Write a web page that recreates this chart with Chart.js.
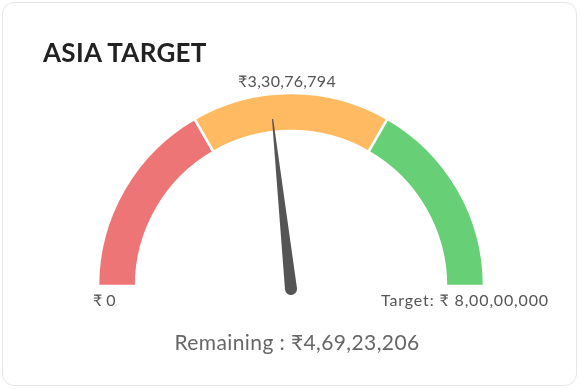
<!DOCTYPE html>
<html>
<head>
<meta charset="utf-8">
<script src="https://cdn.jsdelivr.net/npm/chart.js@4"></script>
<style>
  html, body { margin:0; padding:0; background:#fff; }
  body { width:580px; height:389px; position:relative; overflow:hidden; font-family: Lato, "Noto Sans", "DejaVu Sans", sans-serif; }
  .card { position:absolute; left:2px; top:2px; width:573px; height:382px; border:1.5px solid #e6e6e6; border-radius:12px; background:#fff; }
  canvas { position:absolute; left:0; top:0; }
  .t { position:absolute; white-space:nowrap; }
  #title { left:43px; top:36px; font-size:26px; font-weight:700; color:#222; letter-spacing:0.3px; }
  #valueLbl { left:0; width:580px; text-align:center; top:71px; font-size:16px; color:#555; letter-spacing:0.3px; padding-right:6px; box-sizing:border-box; }
  #minLbl { left:93px; top:290px; font-size:16px; color:#555; }
  #maxLbl { right:31px; top:290px; font-size:16px; color:#555; letter-spacing:0.85px; }
  #remLbl { left:0; width:580px; text-align:center; top:329px; font-size:21px; color:#666; letter-spacing:0.4px; padding-left:14px; box-sizing:border-box; }
</style>
</head>
<body>
<div class="card"></div>
<canvas id="c" width="580" height="389"></canvas>
<div class="t" id="title"></div>
<div class="t" id="valueLbl"></div>
<div class="t" id="minLbl"></div>
<div class="t" id="maxLbl"></div>
<div class="t" id="remLbl"></div>
<script>
// ---- data ----
const titleText = "ASIA TARGET";
const segmentLabels = ["Low", "Medium", "High"];
const segmentValues = [26666667, 26666667, 26666666];
const segmentColors = ["#ED7575", "#FFBA62", "#67CF75"];
const minValue = 0;
const targetValue = 80000000;
const actualValue = 33076794;
const needleValue = 37250000; // needle position

function inr(n) {
  const s = String(Math.round(n));
  if (s.length <= 3) return s;
  const last3 = s.slice(-3);
  let rest = s.slice(0, -3);
  const parts = [];
  while (rest.length > 2) { parts.unshift(rest.slice(-2)); rest = rest.slice(0, -2); }
  if (rest.length) parts.unshift(rest);
  return parts.join(",") + "," + last3;
}

document.getElementById("title").textContent = titleText;
document.getElementById("valueLbl").textContent = "₹" + inr(actualValue);
document.getElementById("minLbl").textContent = "₹ " + inr(minValue);
document.getElementById("maxLbl").textContent = "Target: ₹ " + inr(targetValue);
document.getElementById("remLbl").textContent = "Remaining : ₹" + inr(targetValue - actualValue);

const needlePlugin = {
  id: "needle",
  afterDatasetsDraw(chart) {
    const meta = chart.getDatasetMeta(0);
    const arc = meta.data[0];
    if (!arc) return;
    const cx = arc.x, cy = arc.y + 3;
    const frac = (needleValue - minValue) / (targetValue - minValue);
    const ang = Math.PI + frac * Math.PI;
    const len = 171;
    const ctx = chart.ctx;
    ctx.save();
    ctx.translate(cx, cy);
    ctx.rotate(ang);
    ctx.fillStyle = "#555555";
    ctx.beginPath();
    ctx.moveTo(0, -6);
    ctx.lineTo(len, -0.6);
    ctx.lineTo(len, 0.6);
    ctx.lineTo(0, 6);
    ctx.arc(0, 0, 6, Math.PI / 2, Math.PI * 1.5);
    ctx.closePath();
    ctx.fill();
    ctx.restore();
  }
};

new Chart(document.getElementById("c"), {
  type: "doughnut",
  data: {
    labels: segmentLabels,
    datasets: [{
      data: segmentValues,
      backgroundColor: segmentColors,
      borderColor: "#ffffff",
      borderWidth: 2.5,
      hoverOffset: 0
    }]
  },
  options: {
    responsive: false,
    animation: false,
    rotation: -90,
    circumference: 180,
    radius: 193,
    cutout: "80.3%",
    layout: { padding: { left: 98, right: 96, top: 93, bottom: 103 } },
    plugins: { legend: { display: false }, tooltip: { enabled: false } }
  },
  plugins: [needlePlugin]
});
</script>
</body>
</html>
